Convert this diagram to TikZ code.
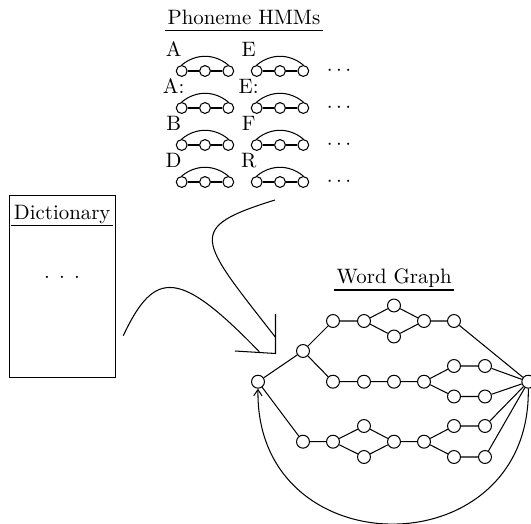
\documentclass[tikz,border=0pt]{standalone}
\usetikzlibrary{arrows.meta}
\tikzset{
  state/.style={circle, draw, inner sep=0pt, minimum size=6.2pt},
  hmmstate/.style={circle, draw, inner sep=0pt, minimum size=5.2pt},
  heading/.style={inner sep=1pt, text depth=1.94pt, anchor=south},
}
\newcommand{\phonemodel}[4]{%
  \node[hmmstate] (#1a) at (#2,#3) {};
  \node[hmmstate] (#1b) at (#2+23.3,#3) {};
  \node[hmmstate] (#1c) at (#2+46.6,#3) {};
  \node[anchor=base, inner sep=0pt] (#1l) at (#2-8,#3-15) {#4};
  \draw (#1a) -- (#1b) -- (#1c);
  \draw (#1a.north) to[bend left=40] (#1c.north);
}
\begin{document}
\begin{tikzpicture}[x=0.48pt, y=-0.48pt, line width=0.5pt]
    \useasboundingbox (0,0) rectangle (531,524);
    % phoneme models
    \node[heading] (hmmtitle) at (244,30.7) {Phoneme HMMs};
    \draw (hmmtitle.south west) -- (hmmtitle.south east);
    \foreach \la/\lb [count=\i from 0] in {A/E, A:/E:, B/F, D/R} {
        \phonemodel{p\i}{181.7}{71+37*\i}{\la}
        \phonemodel{q\i}{256.7}{71+37*\i}{\lb}
        \node (dots\i) at (339,71+37*\i) {$\cdots$};
    }
    % dictionary
    \node[draw, minimum width=51.1pt, minimum height=87.2pt] (dict) at (62.5,286.5) {};
    \node[heading] (dicttitle) at (62.2,225.7) {Dictionary};
    \draw (dicttitle.south west) -- (dicttitle.south east);
    \node (dictdots) at (62,277.7) {. . .};
    % arrows into the word graph
    \coordinate (dictstart) at (123.3,335.7);
    \coordinate (dictend) at (259.3,351.7);
    \coordinate (hmmstart) at (275,200);
    \coordinate (hmmend) at (275.5,337.3);
    \coordinate (tip) at (275.5,353.5);
    \draw (dictstart) .. controls (155,268) and (180,270) .. (dictend);
    \draw (hmmstart) .. controls (185,228) and (198,238) .. (hmmend);
    \draw (235,351) -- (tip) -- (275.5,314);
    % word graph
    \node[heading] (wgtitle) at (394.2,290) {Word Graph};
    \draw (wgtitle.south west) -- (wgtitle.south east);
    \node[state] (s) at (258,381.7) {};
    \node[state] (e) at (528.3,381.7) {};
    \node[state] (u) at (303,351) {};
    \node[state] (t1) at (333,321) {};
    \node[state] (t2) at (364,321) {};
    \node[state] (t3) at (394,305.5) {};
    \node[state] (t4) at (394,336.5) {};
    \node[state] (t5) at (424,321) {};
    \node[state] (t6) at (454,321) {};
    \foreach \n/\x in {m1/333, m2/364, m3/394, m4/424}
        \node[state] (\n) at (\x,381.7) {};
    \node[state] (m5) at (454,366) {};
    \node[state] (m6) at (485,366) {};
    \node[state] (m7) at (454,396.5) {};
    \node[state] (m8) at (485,396.5) {};
    \node[state] (b1) at (303,441.7) {};
    \node[state] (b2) at (333,441.7) {};
    \node[state] (b3) at (364,426) {};
    \node[state] (b4) at (364,457) {};
    \node[state] (b5) at (394,441.7) {};
    \node[state] (b6) at (424,441.7) {};
    \node[state] (b7) at (454,426) {};
    \node[state] (b8) at (485,426) {};
    \node[state] (b9) at (454,457) {};
    \node[state] (b10) at (485,457) {};
    \draw (s) -- (u) -- (t1) -- (t2) -- (t3) -- (t5) -- (t6) -- (e);
    \draw (t2) -- (t4) -- (t5);
    \draw (u) -- (m1) -- (m2) -- (m3) -- (m4) -- (m5) -- (m6) -- (e);
    \draw (m4) -- (m7) -- (m8) -- (e);
    \draw (s) -- (b1) -- (b2) -- (b3) -- (b5) -- (b6) -- (b7) -- (b8) -- (e);
    \draw (b2) -- (b4) -- (b5);
    \draw (b6) -- (b9) -- (b10) -- (e);
    \draw[-{Straight Barb[length=3pt,width=4pt]}] (e.south) .. controls (531,569) and (255,569) .. (s.south);
\end{tikzpicture}
\end{document}
